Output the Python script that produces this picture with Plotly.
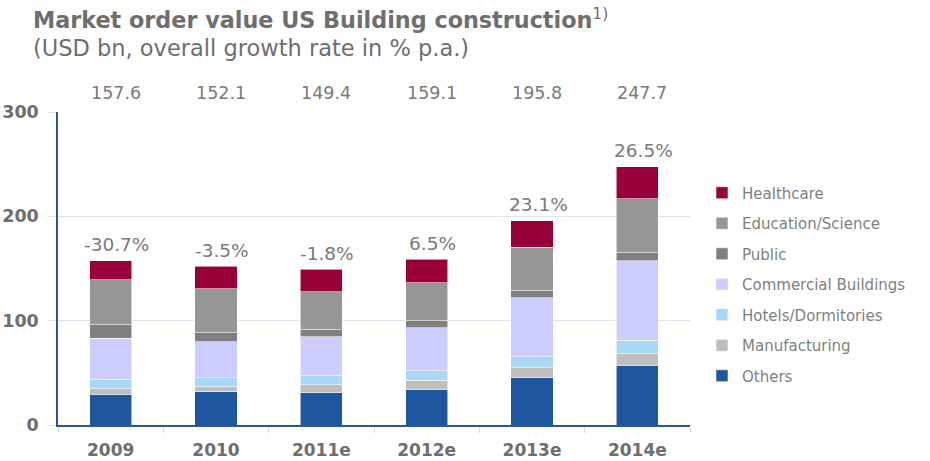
import plotly.graph_objects as go

years = ["2009", "2010", "2011e", "2012e", "2013e", "2014e"]
others = [29.4, 31.9, 31.0, 34.5, 45.3, 57.5]
manufacturing = [5.4, 4.8, 7.6, 8.6, 9.6, 10.6]
hotels = [9.0, 8.4, 8.7, 8.7, 10.6, 13.1]
commercial = [39.3, 34.8, 37.1, 41.5, 56.3, 76.3]
public = [12.8, 8.6, 6.7, 6.7, 6.7, 7.7]
education = [43.5, 41.9, 36.7, 36.3, 41.7, 51.5]
healthcare = [18.2, 21.7, 21.6, 22.8, 25.6, 31.0]
totals = ["157.6", "152.1", "149.4", "159.1", "195.8", "247.7"]
total_vals = [157.6, 152.1, 149.4, 159.1, 195.8, 247.7]
growth = ["-30.7%", "-3.5%", "-1.8%", "6.5%", "23.1%", "26.5%"]

series = [
    ("Others", others, "#1f56a0"),
    ("Manufacturing", manufacturing, "#bfbfbf"),
    ("Hotels/Dormitories", hotels, "#a8d8f5"),
    ("Commercial Buildings", commercial, "#ccccff"),
    ("Public", public, "#808080"),
    ("Education/Science", education, "#969696"),
    ("Healthcare", healthcare, "#99003a"),
]

FONT = "DejaVu Sans"
GRAY = "#6e6e6e"
NUM = "#7a7a7a"

fig = go.Figure()
n = len(series)
for i, (name, vals, col) in enumerate(series):
    fig.add_trace(go.Bar(
        x=years, y=vals, name=name, legendgroup=name, legendrank=n - i,
        marker=dict(color=col, line=dict(color="rgba(255,255,255,0.7)", width=0.8)),
        width=0.4,
    ))

annotations = []
annotations.append(dict(
    xref="paper", yref="paper", x=-0.043, y=1.2970, xanchor="left", yanchor="middle",
    text="<b>Market order value US Building construction</b><sup>1)</sup>",
    showarrow=False, font=dict(family=FONT, size=22.3, color=GRAY)))
annotations.append(dict(
    xref="paper", yref="paper", x=-0.043, y=1.2045, xanchor="left", yanchor="middle",
    text="(USD bn, overall growth rate in % p.a.)",
    showarrow=False, font=dict(family=FONT, size=22.5, color=GRAY)))
for i, t in enumerate(totals):
    annotations.append(dict(
        x=i, xref="x", yref="paper", y=1.061, yanchor="middle", xshift=5,
        text=t, showarrow=False, font=dict(family=FONT, size=17.5, color=NUM)))
for i, (g, tv) in enumerate(zip(growth, total_vals)):
    annotations.append(dict(
        x=i, y=tv, xref="x", yref="y", yanchor="middle", yshift=16, xshift=6,
        text=g, showarrow=False, font=dict(family=FONT, size=18.5, color=NUM)))

fig.update_layout(
    width=930, height=461,
    barmode="stack",
    margin=dict(l=58, r=240, t=112, b=36, autoexpand=False),
    plot_bgcolor="white", paper_bgcolor="white",
    font=dict(family=FONT, color=GRAY),
    annotations=annotations,
    legend=dict(
        x=1.019, y=0.794, xanchor="left", yanchor="top",
        traceorder="grouped", tracegroupgap=8,
        font=dict(family=FONT, size=15, color="#7f7f7f"),
        bgcolor="rgba(0,0,0,0)",
    ),
    xaxis=dict(
        type="category", range=[-0.5, 5.5], automargin=False,
        showline=True, linecolor="#2b5797", linewidth=1.5,
        ticks="outside", tickson="boundaries", ticklen=6, tickcolor="#d5ddec",
        ticklabelstandoff=9,
        tickfont=dict(family=FONT, size=17, color=GRAY, weight="bold"),
        showgrid=False,
    ),
    yaxis=dict(
        range=[0, 300], tickvals=[0, 100, 200, 300], automargin=False,
        showline=True, linecolor="#2b5797", linewidth=1.5,
        showgrid=True, gridcolor="#dce3f0", gridwidth=1,
        ticks="outside", ticklen=8, tickcolor="#dce3f0",
        ticklabelstandoff=6,
        tickfont=dict(family=FONT, size=17.5, color=GRAY, weight="bold"),
        zeroline=False,
    ),
)

fig.write_html("out.html", config={"displayModeBar": False},
               post_script="document.body.style.margin='0px';")
